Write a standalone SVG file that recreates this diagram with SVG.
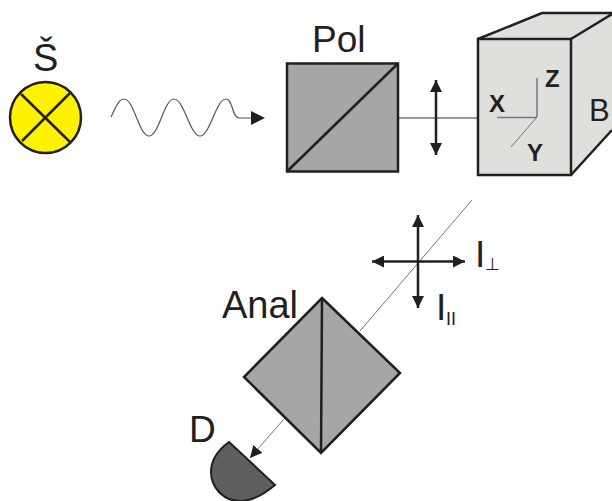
<svg xmlns="http://www.w3.org/2000/svg" width="612" height="501" viewBox="0 0 612 501">
<style>
text{font-family:"Liberation Sans",Arial,sans-serif;fill:#231f20}
.big{font-size:37px}
.ax{font-size:24px;font-weight:bold}
.o{stroke:#231f20;stroke-width:2.5;stroke-linejoin:miter}
.g{fill:#a6a6a6}
.b{fill:#dfe0dc}
.t{fill:none;stroke:#777;stroke-width:1}
.a{fill:none;stroke:#231f20;stroke-width:2.500}
</style>
<defs>
<marker id="h" viewBox="0 0 12 12" refX="12" refY="6" markerWidth="12" markerHeight="12" markerUnits="userSpaceOnUse" orient="auto-start-reverse"><path d="M0 0L12 6L0 12Z" fill="#231f20"/></marker>
</defs>
<rect width="612" height="501" fill="#fff"/>
<g id="connectors">
<path d="M111 117C116 106 119 99 124 99C134 99 139 136 149 136C159 136 164 99 174 99C184 99 190 136 200 136C210 136 216 99 226 99C233 99 232 118 239 118L252 118" class="t" style="stroke:#555;stroke-width:1.200"/>
<path d="M251 111L265 118L251 125Z" fill="#231f20"/>
<path d="M398 118H478" class="t" style="stroke-width:1.500"/>
<path d="M436 80V155" class="a" marker-start="url(#h)" marker-end="url(#h)"/>
<path d="M472 200L360 331" class="t"/>
<path d="M418 215V308" class="a" marker-start="url(#h)" marker-end="url(#h)"/>
<path d="M372 261.500H465" class="a" marker-start="url(#h)" marker-end="url(#h)"/>
<path d="M284 419L250 458" class="t" marker-end="url(#h)"/>
</g>
<g id="source">
<circle cx="45.500" cy="117.500" r="35.500" fill="#fff200" class="o"/>
<path d="M21 94L70 142M70 93L22 141" class="o" fill="none"/>
<text x="33" y="71" class="big" style="font-size:38px">Š</text>
</g>
<g id="polarizer">
<rect x="287" y="63.500" width="111" height="108" class="o g"/>
<path d="M287 171.500L398 63.500" class="o"/>
<text x="312" y="52" class="big">Pol</text>
</g>
<g id="sample">
<path d="M478 39L542 13H612V130L571 175Z" class="b"/>
<path d="M478 39L542 13H612M571 39L612 14M571 175L612 130" class="o" fill="none"/>
<rect x="478" y="39" width="93" height="136" class="o b"/>
<path d="M537 78V117M497 117.500H537" class="t" style="stroke-width:1.500"/>
<path d="M537 117L511 147" class="t"/>
<text x="489" y="112" class="ax">X</text>
<text x="545" y="87" class="ax">Z</text>
<text x="527" y="161" class="ax">Y</text>
<text x="589" y="121" class="big" style="font-size:31px">B</text>
</g>
<g id="analyzer">
<path d="M322 298L400 373L321 453L244 377Z" class="o g"/>
<path d="M322 298L321 453" class="o"/>
<text x="222" y="318" class="big" style="font-size:38px">Anal</text>
</g>
<g id="detector">
<path d="M229 442L275 485C262 496 250 501 240 501C222 501 211 486 211 472C211 460 218 450 229 442Z" fill="#5f5f5f" class="o" style="stroke-width:2"/>
<text x="189" y="442" class="big">D</text>
</g>
<g id="labels">
<text x="475" y="267" class="big">I</text>
<text x="485" y="270" style="font-size:17px">⊥</text>
<text x="436" y="320" class="big">I</text>
<text x="446" y="325" style="font-size:18px">II</text>
</g>
</svg>
